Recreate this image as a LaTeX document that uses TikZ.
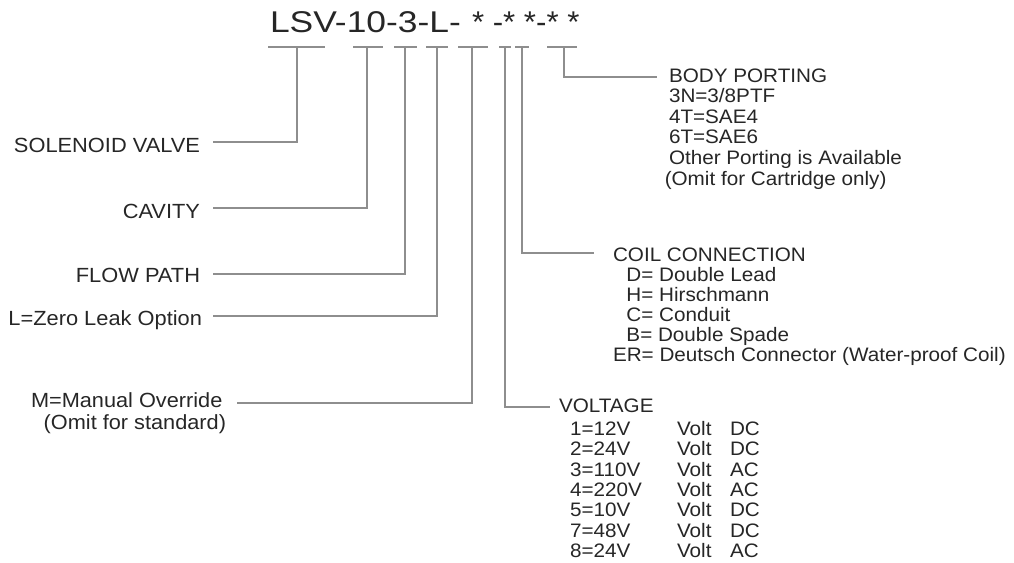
\documentclass[tikz,border=0pt]{standalone}
\usepackage{fontspec}
\setmainfont{Liberation Sans}
\usepackage{graphicx}
\definecolor{txt}{HTML}{262626}
\definecolor{ln}{HTML}{8E8E8E}
\newcommand{\hsc}[1]{\scalebox{1.06}[1]{#1}}
\newcommand{\hsl}[1]{\scalebox{1.065}[1]{#1}}
\begin{document}
\begin{tikzpicture}[x=1pt,y=-1pt,
  lbl/.style={inner sep=0pt, outer sep=0pt, text=txt},
  conn/.style={draw=ln, line width=1.3pt},
  f195/.style={font=\fontsize{19.5}{20.6}\selectfont},
  fbig/.style={font=\fontsize{20.5}{22}\selectfont},
]
\useasboundingbox (0,0) rectangle (1014,562);

% ---- title
\node[lbl, anchor=base west, font=\fontsize{30}{31}\selectfont] (title) at (270,32)
  {\scalebox{1.18}[1]{LSV-10-3-L-}};
\node[lbl, anchor=base west, font=\fontsize{30}{31}\selectfont] (code) at (472,32)
  {\scalebox{1.04}[1]{* -* *-* *}};

% ---- tap coordinates (underline ends, tap point, line end)
\coordinate (a1) at (268,47); \coordinate (b1) at (325,47); \coordinate (t1) at (297,47); \coordinate (e1) at (213,142);
\coordinate (a2) at (353,47); \coordinate (b2) at (383,47); \coordinate (t2) at (367,47); \coordinate (e2) at (213,208);
\coordinate (a3) at (394,47); \coordinate (b3) at (417,47); \coordinate (t3) at (405,47); \coordinate (e3) at (213,274);
\coordinate (a4) at (426,47); \coordinate (b4) at (448,47); \coordinate (t4) at (437,47); \coordinate (e4) at (213,316);
\coordinate (a5) at (458,47); \coordinate (b5) at (488,47); \coordinate (t5) at (472,47); \coordinate (e5) at (237,403);
\coordinate (a6) at (499,47); \coordinate (b6) at (511,47); \coordinate (t6) at (505,47); \coordinate (e6) at (550,407);
\coordinate (a7) at (515,47); \coordinate (b7) at (529,47); \coordinate (t7) at (522,47); \coordinate (e7) at (594,253);
\coordinate (a8) at (547,47); \coordinate (b8) at (577,47); \coordinate (t8) at (564,47); \coordinate (e8) at (657,77);

\foreach \i in {1,...,8}{
  \draw[conn] (a\i) -- (b\i);
  \draw[conn] (t\i) |- (e\i);
}

% ---- left labels
\node[lbl, fbig, anchor=base east] (sol) at (200,152) {\hsl{SOLENOID VALVE}};
\node[lbl, fbig, anchor=base east] (cav) at (200,218.5) {\hsl{CAVITY}};
\node[lbl, fbig, anchor=base east] (flow) at (200,282.5) {\hsl{FLOW PATH}};
\node[lbl, fbig, anchor=base east] (leak) at (202,325.5) {\hsl{L=Zero Leak Option}};
\node[lbl, fbig, anchor=base west] (man) at (31,407)
  {\hsc{\begin{tabular}[t]{@{}l@{}}M=Manual Override\\\hspace*{12pt}(Omit for standard)\end{tabular}}};

% ---- right labels
\node[lbl, f195, anchor=base west] (body) at (669,82)
  {\hsc{\begin{tabular}[t]{@{}l@{}}BODY PORTING\\3N=3/8PTF\\4T=SAE4\\6T=SAE6\\Other Porting is Available\\\hspace*{-4pt}(Omit for Cartridge only)\end{tabular}}};

\node[lbl, font=\fontsize{19.5}{19.8}\selectfont, anchor=base west] (coil) at (613,261)
  {\hsc{\begin{tabular}[t]{@{}l@{}}COIL CONNECTION\\\hspace*{12.7pt}D= Double Lead\\\hspace*{12.7pt}H= Hirschmann\\\hspace*{12.7pt}C= Conduit\\\hspace*{12.7pt}B= Double Spade\\ER= Deutsch Connector (Water-proof Coil)\end{tabular}}};

\node[lbl, f195, anchor=base west] (volt) at (559,412.5) {\hsc{VOLTAGE}};
\node[lbl, font=\fontsize{19.5}{20.3}\selectfont, anchor=base west] (vtab) at (570,435.5)
  {\hsc{\begin{tabular}[t]{@{}p{101pt}@{}p{50pt}@{}l@{}}
  1=12V & Volt & DC\\
  2=24V & Volt & DC\\
  3=110V & Volt & AC\\
  4=220V & Volt & AC\\
  5=10V & Volt & DC\\
  7=48V & Volt & DC\\
  8=24V & Volt & AC
  \end{tabular}}};
\end{tikzpicture}
\end{document}
